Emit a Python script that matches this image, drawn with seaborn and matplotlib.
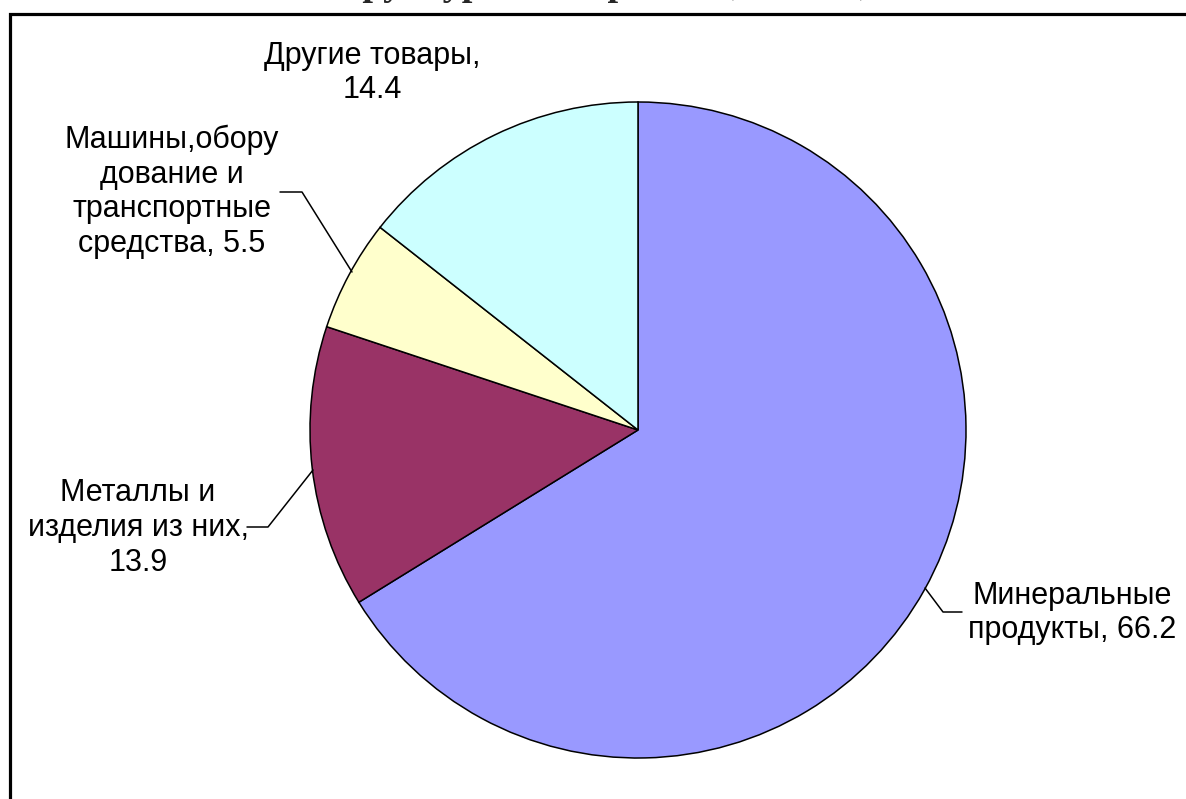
import matplotlib
matplotlib.use('Agg')
import matplotlib.pyplot as plt
import seaborn as sns
from matplotlib.patches import Rectangle

# Data
categories = ['Минеральные\nпродукты, 66.2',
              'Металлы и\nизделия из них,\n13.9',
              'Машины,обору\nдование и\nтранспортные\nсредства, 5.5',
              'Другие товары,\n14.4']
shares = [66.2, 13.9, 5.5, 14.4]
colors = ['#9999FF', '#993366', '#FFFFCC', '#CCFFFF']
title = 'Структура экспорта РФ, 2008 г., %'

sns.set_theme(style='white')
plt.rcParams['font.family'] = ['Liberation Sans', 'DejaVu Sans']

W, H = 1186, 799
fig = plt.figure(figsize=(W / 100, H / 100), dpi=100)
ax = fig.add_axes([0, 0, 1, 1])

# pixel coords are measured from top, flip y
def fy(y):
    return H - y

ax.pie(shares, colors=colors, startangle=90, counterclock=False,
       center=(638, fy(430)), radius=328,
       wedgeprops=dict(edgecolor='black', linewidth=1.1))

# pie() resets the limits, so set them afterwards
ax.set_xlim(0, W)
ax.set_ylim(0, H)
ax.set_aspect('equal')
ax.axis('off')

# frame around the chart area
ax.add_patch(Rectangle((10, fy(820)), 1200, 806, fill=False,
                       edgecolor='black', linewidth=2.3))

# labels with leader lines
label_pos = [(1072, 613), (138, 528), (172, 192), (372, 73)]
leaders = [[(925, 588), (943, 612), (962, 612)],
           [(313, 470), (268, 527), (247, 527)],
           [(352, 272), (302, 192), (280, 192)],
           None]
for text, (x, y), line in zip(categories, label_pos, leaders):
    ax.text(x, fy(y), text, ha='center', va='center', fontsize=22,
            linespacing=1.2, color='black')
    if line:
        ax.plot([p[0] for p in line], [fy(p[1]) for p in line],
                color='black', linewidth=1.1)

# title, mostly above the top edge as in the source picture
ax.text(316, fy(-5), title, ha='left', va='baseline', fontsize=27.5,
        fontweight='bold', family=['Liberation Serif', 'DejaVu Serif'])

fig.savefig('out.png', dpi=100)
